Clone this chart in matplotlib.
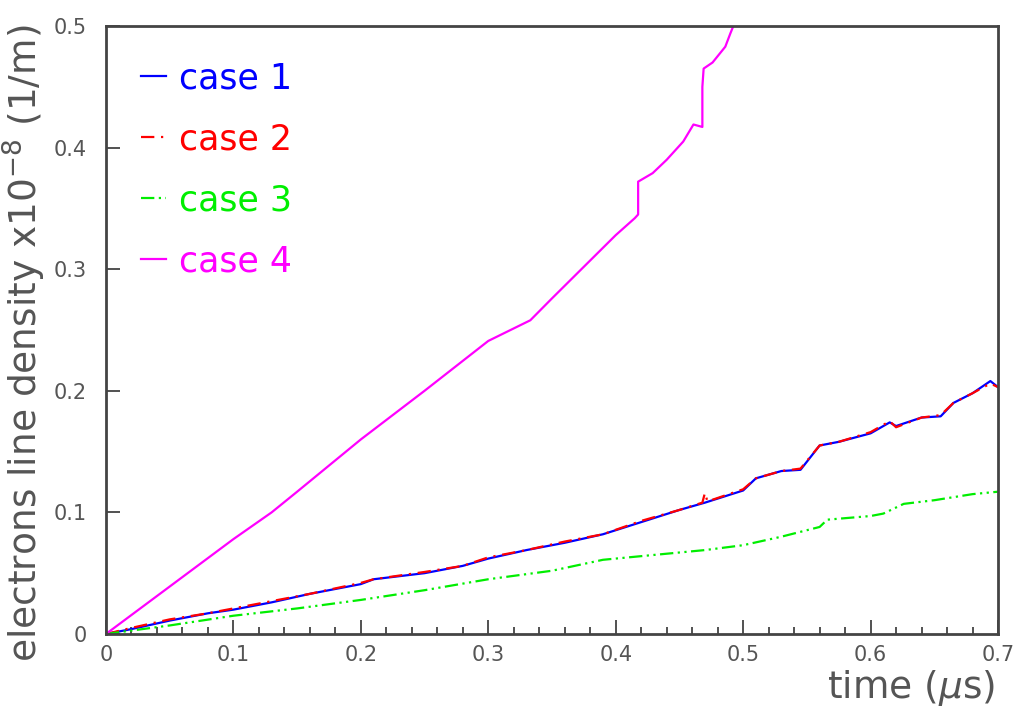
import matplotlib
matplotlib.use('Agg')
import matplotlib.pyplot as plt
from matplotlib.ticker import MultipleLocator

# case 1 (blue)
t1 = [0, 0.02, 0.05, 0.08, 0.1, 0.13, 0.16, 0.2, 0.21, 0.25, 0.28, 0.3, 0.33, 0.36, 0.39,
      0.42, 0.45, 0.47, 0.5, 0.51, 0.53, 0.545, 0.56, 0.575, 0.6, 0.615, 0.62, 0.64, 0.655,
      0.665, 0.68, 0.694, 0.7]
y1 = [0, 0.004, 0.011, 0.017, 0.02, 0.026, 0.033, 0.041, 0.045, 0.05, 0.056, 0.062, 0.069,
      0.075, 0.082, 0.092, 0.102, 0.108, 0.118, 0.128, 0.134, 0.135, 0.155, 0.158, 0.165,
      0.174, 0.171, 0.178, 0.179, 0.19, 0.198, 0.208, 0.203]

# case 2 (red)
t2 = [0, 0.02, 0.05, 0.08, 0.1, 0.13, 0.16, 0.2, 0.21, 0.25, 0.28, 0.3, 0.33, 0.36, 0.39,
      0.42, 0.45, 0.468, 0.47, 0.472, 0.5, 0.51, 0.53, 0.545, 0.56, 0.575, 0.6, 0.615, 0.62,
      0.64, 0.655, 0.665, 0.68, 0.694, 0.7]
y2 = [0, 0.005, 0.012, 0.017, 0.021, 0.027, 0.033, 0.042, 0.045, 0.051, 0.056, 0.063, 0.069,
      0.076, 0.082, 0.093, 0.102, 0.108, 0.116, 0.109, 0.119, 0.128, 0.134, 0.136, 0.155,
      0.158, 0.166, 0.175, 0.17, 0.178, 0.18, 0.19, 0.198, 0.206, 0.203]

# case 3 (green)
t3 = [0, 0.05, 0.1, 0.15, 0.2, 0.25, 0.3, 0.35, 0.39, 0.43, 0.47, 0.485, 0.5, 0.53, 0.56,
      0.566, 0.6, 0.61, 0.626, 0.65, 0.68, 0.7]
y3 = [0, 0.007, 0.015, 0.021, 0.028, 0.036, 0.045, 0.052, 0.061, 0.065, 0.069, 0.071, 0.073,
      0.08, 0.088, 0.094, 0.097, 0.099, 0.107, 0.11, 0.115, 0.117]

# case 4 (magenta)
t4 = [0, 0.05, 0.1, 0.13, 0.15, 0.2, 0.25, 0.3, 0.333, 0.35, 0.4, 0.415, 0.4176, 0.4176,
      0.429, 0.44, 0.453, 0.461, 0.468, 0.468, 0.469, 0.476, 0.486, 0.49, 0.5]
y4 = [0, 0.039, 0.078, 0.1, 0.117, 0.16, 0.2, 0.241, 0.258, 0.276, 0.328, 0.342, 0.345, 0.372,
      0.379, 0.39, 0.405, 0.419, 0.417, 0.45, 0.465, 0.47, 0.483, 0.494, 0.52]

xticks = [0, 0.1, 0.2, 0.3, 0.4, 0.5, 0.6, 0.7]
xtick_labels = ['0', '0.1', '0.2', '0.3', '0.4', '0.5', '0.6', '0.7']
yticks = [0, 0.1, 0.2, 0.3, 0.4, 0.5]
ytick_labels = ['0', '0.1', '0.2', '0.3', '0.4', '0.5']

fig = plt.figure(figsize=(10.16, 7.07), dpi=100)
ax = fig.add_axes([0.1043, 0.1033, 0.8780, 0.8599])

ax.plot(t1, y1, color='#0000ff', lw=1.6, label='case 1')
ax.plot(t2, y2, color='#ff0000', lw=1.6, ls=(0, (6, 3, 1, 3)), label='case 2')
ax.plot(t3, y3, color='#00ee00', lw=1.6, ls=(0, (6, 2, 1, 2, 1, 2)), label='case 3')
ax.plot(t4, y4, color='#ff00ff', lw=1.6, label='case 4')

ax.set_xlim(0, 0.7)
ax.set_ylim(0, 0.5)
ax.set_xticks(xticks)
ax.set_xticklabels(xtick_labels)
ax.set_yticks(yticks)
ax.set_yticklabels(ytick_labels)
ax.xaxis.set_minor_locator(MultipleLocator(0.02))
ax.tick_params(which='major', direction='in', length=10, width=1.2, colors='#333333',
               labelsize=15, labelcolor='#555555', pad=8)
ax.tick_params(axis='y', which='major', pad=14)
ax.tick_params(which='minor', direction='in', length=5, width=1.2, colors='#333333')
ax.tick_params(axis='y', which='minor', left=False)

for s in ax.spines.values():
    s.set_color('#444444')
    s.set_linewidth(2)

leg = ax.legend(loc='upper left', frameon=False, fontsize=25, handlelength=0.7,
                handletextpad=0.4, labelspacing=0.78, borderaxespad=0,
                bbox_to_anchor=(0.024, 0.965))
for txt, line in zip(leg.get_texts(), leg.get_lines()):
    txt.set_color(line.get_color())

fig.text(0.024, 0.514, r'electrons line density x10$^{-8}$ (1/m)', rotation=90,
         ha='center', va='center', fontsize=27, color='#555555')
fig.text(0.979, 0.027, r'time ($\mu$s)', ha='right', va='center', fontsize=27,
         color='#555555')

fig.savefig('out.png', dpi=100)
